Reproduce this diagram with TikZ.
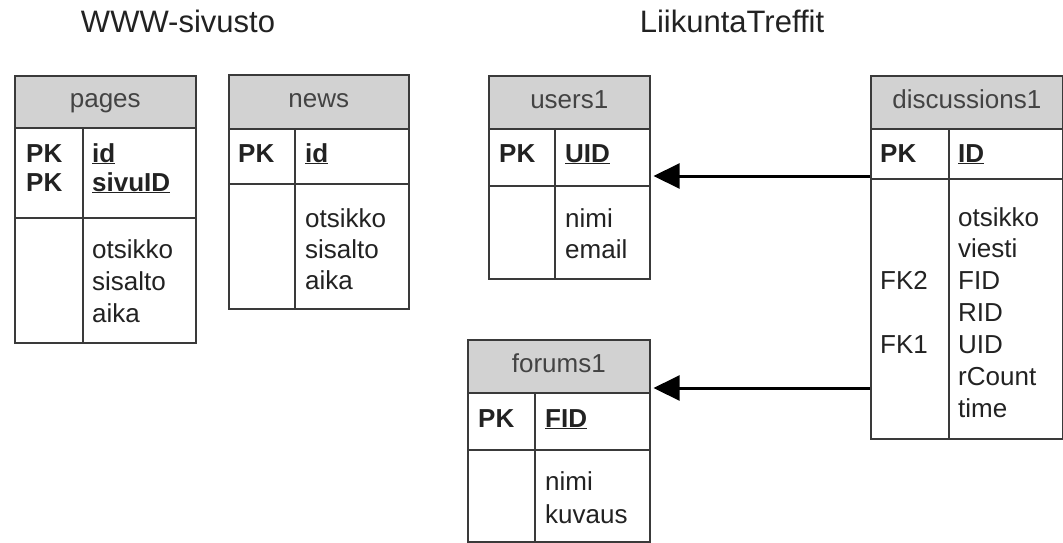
\documentclass[tikz,border=0pt]{standalone}
\usepackage{fontspec}
\setmainfont{Liberation Sans}
\usetikzlibrary{arrows.meta}
\definecolor{hdrfill}{HTML}{D2D2D2}
\definecolor{edge}{HTML}{3A3A3A}
\definecolor{txt}{HTML}{222222}
\begin{document}
\begin{tikzpicture}[x=1pt,y=-1pt,
  box/.style={draw=edge,line width=1.6pt,inner sep=0pt,anchor=north west},
  hdr/.style={box,fill=hdrfill,text=txt!85!white,font=\fontsize{26}{30}\selectfont,text height=18pt,text depth=6pt},
  cell/.style={box,fill=white},
  fld/.style={anchor=base west,inner sep=0pt,text=txt,font=\fontsize{26}{30}\selectfont},
  key/.style={fld,font=\fontsize{26}{30}\selectfont\bfseries},
  title/.style={anchor=base,inner sep=0pt,text=txt,font=\fontsize{31}{36}\selectfont},
  fk/.style={draw=black,line width=3pt,-{Triangle[length=26pt,width=25pt]},shorten >=3pt}
]
\useasboundingbox[fill=white] (0,0) rectangle (1063,543);

% titles
\node[title] (t1) at (178,33) {WWW-sivusto};
\node[title] (t2) at (732,33) {LiikuntaTreffit};

% ---------- pages ----------
\node[cell,minimum width=68pt,minimum height=90pt] (pgKL) at (14,127) {};
\node[cell,minimum width=113pt,minimum height=90pt] (pgKR) at (82,127) {};
\node[cell,minimum width=68pt,minimum height=125pt] (pgAL) at (14,217) {};
\node[cell,minimum width=113pt,minimum height=125pt] (pgAR) at (82,217) {};
\node[hdr,minimum width=181pt,minimum height=52pt] (pgH) at (14,75) {pages};
\node[key] (pgk1) at (26,162) {PK};
\node[key] (pgk2) at (26,191) {PK};
\node[key] (pgf1) at (92,162) {\underline{id}};
\node[key] (pgf2) at (92,191) {\underline{sivuID}};
\node[fld] (pga1) at (92,258) {otsikko};
\node[fld] (pga2) at (92,290) {sisalto};
\node[fld] (pga3) at (92,322) {aika};

% ---------- news ----------
\node[cell,minimum width=66pt,minimum height=55pt] (nwKL) at (228,128) {};
\node[cell,minimum width=114pt,minimum height=55pt] (nwKR) at (294,128) {};
\node[cell,minimum width=66pt,minimum height=125pt] (nwAL) at (228,183) {};
\node[cell,minimum width=114pt,minimum height=125pt] (nwAR) at (294,183) {};
\node[hdr,minimum width=180pt,minimum height=54pt] (nwH) at (228,74) {news};
\node[key] (nwk1) at (238,162) {PK};
\node[key] (nwf1) at (305,162) {\underline{id}};
\node[fld] (nwa1) at (305,227) {otsikko};
\node[fld] (nwa2) at (305,258) {sisalto};
\node[fld] (nwa3) at (305,289) {aika};

% ---------- users1 ----------
\node[cell,minimum width=66pt,minimum height=57pt] (usKL) at (488,128) {};
\node[cell,minimum width=95pt,minimum height=57pt] (usKR) at (554,128) {};
\node[cell,minimum width=66pt,minimum height=93pt] (usAL) at (488,185) {};
\node[cell,minimum width=95pt,minimum height=93pt] (usAR) at (554,185) {};
\node[hdr,minimum width=161pt,minimum height=53pt] (usH) at (488,75) {users1};
\node[key] (usk1) at (499,162) {PK};
\node[key] (usf1) at (565,162) {\underline{UID}};
\node[fld] (usa1) at (565,227) {nimi};
\node[fld] (usa2) at (565,258) {email};

% ---------- discussions1 ----------
\node[cell,minimum width=78pt,minimum height=50pt] (dsKL) at (870,128) {};
\node[cell,minimum width=114pt,minimum height=50pt] (dsKR) at (948,128) {};
\node[cell,minimum width=78pt,minimum height=260pt] (dsAL) at (870,178) {};
\node[cell,minimum width=114pt,minimum height=260pt] (dsAR) at (948,178) {};
\node[hdr,minimum width=192pt,minimum height=53pt] (dsH) at (870,75) {discussions1};
\node[key] (dsk1) at (880,162) {PK};
\node[key] (dsf1) at (958,162) {\underline{ID}};
\node[fld] (dsa1) at (958,226) {otsikko};
\node[fld] (dsa2) at (958,257) {viesti};
\node[fld] (dsa3) at (958,289) {FID};
\node[fld] (dsa4) at (958,321) {RID};
\node[fld] (dsa5) at (958,353) {UID};
\node[fld] (dsa6) at (958,385) {rCount};
\node[fld] (dsa7) at (958,417) {time};
\node[fld] (dsfk2) at (880,289) {FK2};
\node[fld] (dsfk1) at (880,353) {FK1};

% ---------- forums1 ----------
\node[cell,minimum width=67pt,minimum height=57pt] (foKL) at (467,392) {};
\node[cell,minimum width=115pt,minimum height=57pt] (foKR) at (534,392) {};
\node[cell,minimum width=67pt,minimum height=92pt] (foAL) at (467,449) {};
\node[cell,minimum width=115pt,minimum height=92pt] (foAR) at (534,449) {};
\node[hdr,minimum width=182pt,minimum height=53pt] (foH) at (467,339) {forums1};
\node[key] (fok1) at (478,427) {PK};
\node[key] (fof1) at (545,427) {\underline{FID}};
\node[fld] (foa1) at (545,490) {nimi};
\node[fld] (foa2) at (545,523) {kuvaus};

% ---------- relations ----------
\coordinate (r1) at (0,176);
\coordinate (r2) at (0,388);
\draw[fk] (dsAL.west |- r1) -- (usKR.east |- r1);
\draw[fk] (dsAL.west |- r2) -- (foH.east |- r2);
\end{tikzpicture}
\end{document}
